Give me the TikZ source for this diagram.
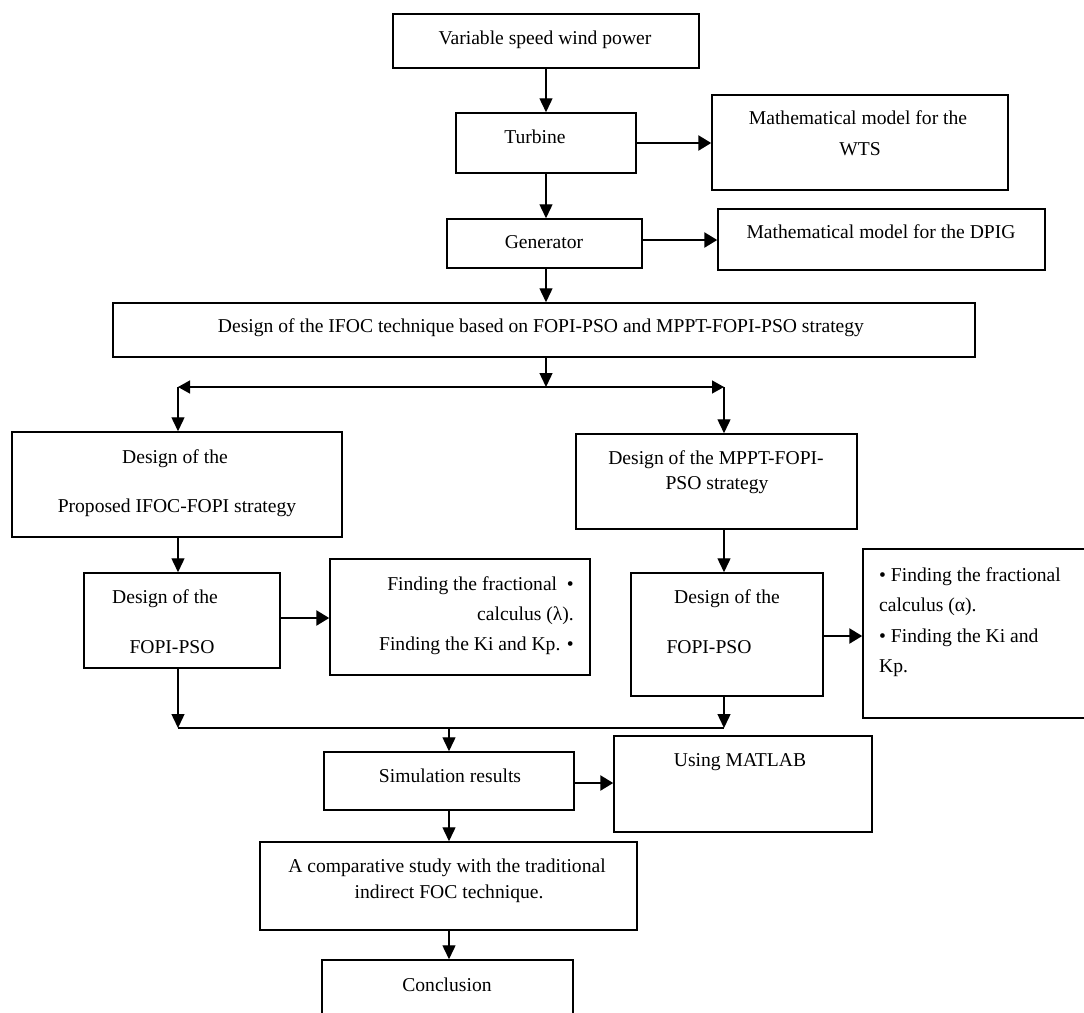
\documentclass[tikz,border=0pt]{standalone}
\usepackage{fontspec}
\setmainfont{Liberation Serif}
\usetikzlibrary{arrows.meta}
\tikzset{
  box/.style={draw, line width=1.5pt, inner sep=0pt},
  txt/.style={inner sep=0pt, anchor=base, font=\fontsize{19.6pt}{23pt}\selectfont},
  varr/.style={line width=1.4pt, -{Triangle[length=14pt,width=13pt]}},
  harr/.style={line width=2.6pt, -{Triangle[length=13pt,width=15pt]}},
  plain/.style={line width=1.4pt},
  dbl/.style={line width=1.4pt, {Triangle[length=12pt,width=13pt]}-{Triangle[length=12pt,width=13pt]}}
}
\begin{document}
\begin{tikzpicture}[x=1pt,y=-1pt]
\clip (0,0) rectangle (1084,1012);
\fill[white] (0,0) rectangle (1084,1012);
% boxes
\node[box, minimum width=306pt, minimum height=54pt] (b1) at (546,41) {};
\node[box, minimum width=180pt, minimum height=60pt] (turb) at (546,143) {};
\node[box, minimum width=296pt, minimum height=95pt] (wts) at (860,142.5) {};
\node[box, minimum width=195pt, minimum height=49pt] (gen) at (544.5,243.5) {};
\node[box, minimum width=327pt, minimum height=61pt] (dpig) at (881.5,239.5) {};
\node[box, minimum width=862pt, minimum height=54pt] (ifoc) at (544,330) {};
\node[box, minimum width=330pt, minimum height=105pt] (bl) at (177,484.5) {};
\node[box, minimum width=281pt, minimum height=95pt] (br) at (716.5,481.5) {};
\node[box, minimum width=196pt, minimum height=95pt] (l2) at (182,620.5) {};
\node[box, minimum width=260pt, minimum height=116pt] (lam) at (460,617) {};
\node[box, minimum width=192pt, minimum height=123pt] (r2) at (727,634.5) {};
\node[box, minimum width=237pt, minimum height=169pt] (alp) at (981.5,633.5) {};
\node[box, minimum width=250pt, minimum height=58pt] (sim) at (449,781) {};
\node[box, minimum width=258pt, minimum height=96pt] (mat) at (743,784) {};
\node[box, minimum width=377pt, minimum height=88pt] (comp) at (448.5,886) {};
\node[box, minimum width=251pt, minimum height=70pt] (conc) at (447.5,995) {};
% texts
\node[txt] (t1) at (545,44) {Variable speed wind power};
\node[txt] (t2) at (535,143) {Turbine};
\node[txt] (t3a) at (858,124) {Mathematical model for the};
\node[txt] (t3b) at (860,155) {WTS};
\node[txt] (t4) at (544,248) {Generator};
\node[txt] (t5) at (881,238) {Mathematical model for the DPIG};
\node[txt] (t6) at (541,332) {Design of the IFOC technique based on FOPI-PSO and MPPT-FOPI-PSO strategy};
\node[txt] (t7a) at (175,463) {Design of the};
\node[txt] (t7b) at (177,512) {Proposed IFOC-FOPI strategy};
\node[txt] (t8a) at (716,464) {Design of the MPPT-FOPI-};
\node[txt] (t8b) at (717,489) {PSO strategy};
\node[txt] (t9a) at (165,603) {Design of the};
\node[txt] (t9b) at (172,653) {FOPI-PSO};
\node[txt, anchor=base east] (t10a) at (574,590) {Finding the fractional\enspace•};
\node[txt, anchor=base east] (t10b) at (574,620) {calculus (λ).};
\node[txt, anchor=base east] (t10c) at (574,650) {Finding the Ki and Kp. •};
\node[txt] (t11a) at (727,603) {Design of the};
\node[txt] (t11b) at (709,653) {FOPI-PSO};
\node[txt, anchor=base west] (t12a) at (879,581) {• Finding the fractional};
\node[txt, anchor=base west] (t12b) at (879,611) {calculus (α).};
\node[txt, anchor=base west] (t12c) at (879,642) {• Finding the Ki and};
\node[txt, anchor=base west] (t12d) at (879,672) {Kp.};
\node[txt] (t13) at (450,782) {Simulation results};
\node[txt] (t14) at (740,766) {Using MATLAB};
\node[txt] (t15a) at (447,872) {A comparative study with the traditional};
\node[txt] (t15b) at (449,898) {indirect FOC technique.};
\node[txt] (t16) at (447,991) {Conclusion};
% junction points
\coordinate (sl) at (178,387);
\coordinate (sm) at (546,387);
\coordinate (sr) at (724,387);
\coordinate (ml) at (178,728);
\coordinate (mm) at (449,728);
\coordinate (mr) at (724,728);
% connectors
\draw[varr] (b1.south) -- (b1.south |- turb.north);
\draw[varr] (turb.south) -- (turb.south |- gen.north);
\draw[varr] (gen.south -| turb.south) -- (turb.south |- ifoc.north);
\draw[harr] (turb.east) -- (turb.east -| wts.west);
\draw[harr] ([yshift=3.5pt]gen.east) -- ([yshift=3.5pt]gen.east -| dpig.west);
\draw[varr] (ifoc.south -| sm) -- (sm);
\draw[dbl] (sl) -- (sr);
\draw[varr] (sl) -- (sl |- bl.north);
\draw[varr] (sr) -- (sr |- br.north);
\draw[varr] (bl.south -| sl) -- (sl |- l2.north);
\draw[varr] (br.south -| sr) -- (sr |- r2.north);
\draw[harr] ([yshift=2.5pt]l2.east) -- ([yshift=2.5pt]l2.east -| lam.west);
\draw[harr] ([yshift=-1.5pt]r2.east) -- ([yshift=-1.5pt]r2.east -| alp.west);
\draw[varr] (l2.south -| ml) -- (ml);
\draw[varr] (r2.south -| mr) -- (mr);
\draw[plain] (ml) -- (mr);
\draw[varr] (mm) -- (mm |- sim.north);
\draw[harr] ([yshift=-2pt]sim.east) -- ([yshift=-2pt]sim.east -| mat.west);
\draw[varr] (sim.south) -- (sim.south |- comp.north);
\draw[varr] (comp.south -| sim.south) -- (sim.south |- conc.north);
\end{tikzpicture}
\end{document}
